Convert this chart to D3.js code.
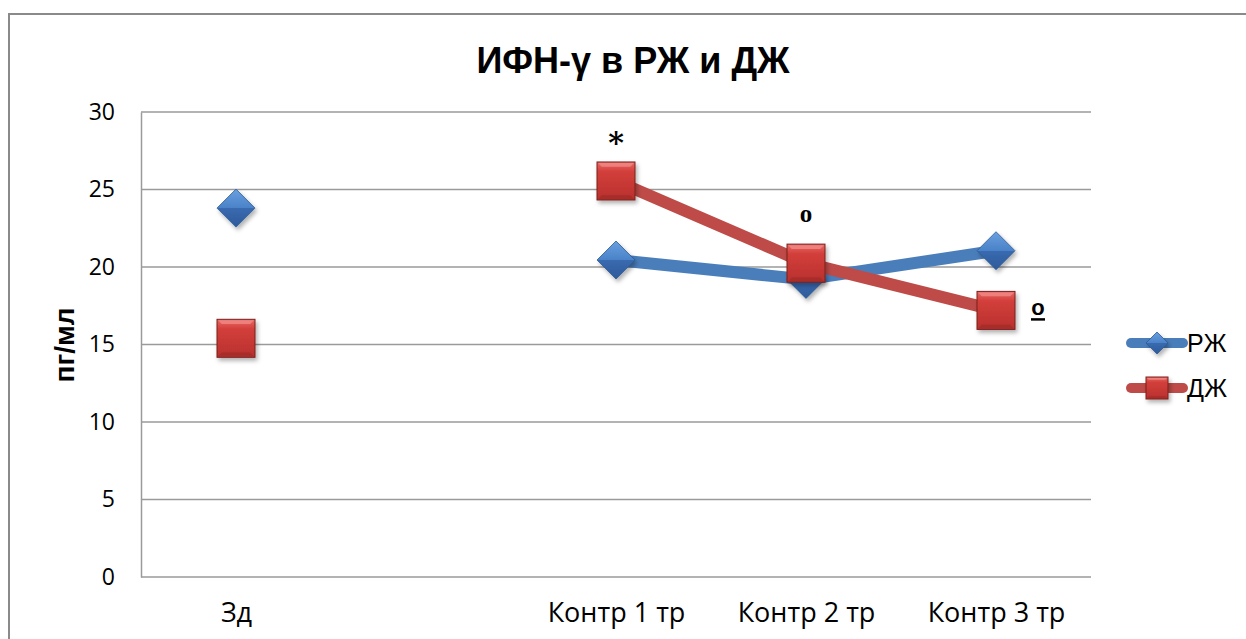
<!DOCTYPE html>
<html><head><meta charset="utf-8">
<script src="https://cdn.jsdelivr.net/npm/d3@7"></script>
<style>body{margin:0;background:#fff}svg{display:block}</style>
</head><body>
<svg id="c" width="1246" height="639"></svg>
<script>
const categories = ["Зд", " ", "Контр 1 тр", "Контр 2 тр", "Контр 3 тр"];
const seriesNames = ["РЖ", "ДЖ"];
const valuesRZ = [23.8, null, 20.45, 19.2, 21.05];
const valuesDZ = [15.4, null, 25.55, 20.25, 17.2];
const yTicks = [0, 5, 10, 15, 20, 25, 30];
const annotations = [
  {series: 1, index: 2, text: "*"},
  {series: 1, index: 3, text: "o"},
  {series: 1, index: 4, text: "º"}
];

const svg = d3.select("#c");
const font = "'Liberation Sans', Arial, sans-serif";
const tickFont = "'Open Sans', 'Noto Sans', sans-serif";
const colors = ["#4A7EBB", "#BE4B48"];

const defs = svg.append("defs");
const g1 = defs.append("linearGradient").attr("id","gBlue").attr("x1",0).attr("y1",0).attr("x2",0).attr("y2",1);
g1.append("stop").attr("offset","0%").attr("stop-color","#6aa0e0");
g1.append("stop").attr("offset","50%").attr("stop-color","#4a82c8");
g1.append("stop").attr("offset","50%").attr("stop-color","#3a6ab0");
g1.append("stop").attr("offset","100%").attr("stop-color","#2d5a9a");
const g2 = defs.append("linearGradient").attr("id","gRed").attr("x1",0).attr("y1",0).attr("x2",0).attr("y2",1);
g2.append("stop").attr("offset","0%").attr("stop-color","#e86a66");
g2.append("stop").attr("offset","25%").attr("stop-color","#d33f3b");
g2.append("stop").attr("offset","100%").attr("stop-color","#b8302d");
const f = defs.append("filter").attr("id","sh").attr("x","-30%").attr("y","-30%").attr("width","170%").attr("height","170%");
f.append("feDropShadow").attr("dx",2).attr("dy",3).attr("stdDeviation",2).attr("flood-color","#000").attr("flood-opacity",0.3);

// outer border
svg.append("rect").attr("x",9).attr("y",14).attr("width",1260).attr("height",660)
  .attr("fill","none").attr("stroke","#8a8a8a").attr("stroke-width",2);

const x = d3.scalePoint().domain(categories).range([141, 1091]).padding(0.5);
const y = d3.scaleLinear().domain([0, 30]).range([577, 112]);

// gridlines
svg.append("g").selectAll("line").data(yTicks).join("line")
  .attr("x1",141).attr("x2",1091).attr("y1",d=>y(d)).attr("y2",d=>y(d))
  .attr("stroke","#9a9a9a").attr("stroke-width",1.5);

// y axis
const yAxis = d3.axisLeft(y).tickValues(yTicks).tickSize(0).tickPadding(26);
const ya = svg.append("g").attr("transform","translate(141,0)").call(yAxis);
ya.select(".domain").attr("stroke","#9a9a9a").attr("stroke-width",1.5);
ya.selectAll("text").attr("font-family",tickFont).attr("font-size",23).attr("fill","#000");

// x axis
const xAxis = d3.axisBottom(x).tickSize(0).tickPadding(26);
const xa = svg.append("g").attr("transform","translate(0,577)").call(xAxis);
xa.select(".domain").remove();
xa.selectAll("text").attr("font-family",tickFont).attr("font-size",27).attr("fill","#000");

// title
svg.append("text").attr("x",633).attr("y",73).attr("text-anchor","middle")
  .attr("font-family",font).attr("font-weight","bold").attr("font-size",36)
  .text("ИФН-γ в РЖ и ДЖ");

// y label
svg.append("text").attr("transform","translate(74,345) rotate(-90)").attr("text-anchor","middle")
  .attr("font-family",font).attr("font-weight","bold").attr("font-size",28)
  .text("пг/мл");

const series = [valuesRZ, valuesDZ];
const line = d3.line().defined(d=>d.v!=null).x(d=>x(d.c)).y(d=>y(d.v));

function marker(sel, s, cx, cy, size) {
  const h = size;
  if (s === 0) {
    sel.append("path").attr("d",`M${cx},${cy-h}L${cx+h},${cy}L${cx},${cy+h}L${cx-h},${cy}Z`)
      .attr("fill","url(#gBlue)").attr("stroke","#2c5b94").attr("stroke-width",0.8).attr("filter","url(#sh)");
  } else {
    sel.append("rect").attr("x",cx-h).attr("y",cy-h).attr("width",2*h).attr("height",2*h)
      .attr("fill","url(#gRed)").attr("stroke","#7a1f1d").attr("stroke-width",1).attr("filter","url(#sh)");
    const b = Math.max(2, h/4);
    sel.append("path").attr("d",`M${cx-h+1},${cy-h+1}L${cx+h-1},${cy-h+1}L${cx+h-b},${cy-h+b}L${cx-h+b},${cy-h+b}Z`)
      .attr("fill","#f08a86").attr("opacity",0.8);
    sel.append("path").attr("d",`M${cx-h+1},${cy+h-1}L${cx+h-1},${cy+h-1}L${cx+h-b},${cy+h-b}L${cx-h+b},${cy+h-b}Z`)
      .attr("fill","#9a2926").attr("opacity",0.6);
  }
}

series.forEach((vals, s) => {
  const data = vals.map((v,i)=>({c:categories[i], v}));
  const g = svg.append("g");
  g.append("path").attr("d", line(data)).attr("fill","none")
    .attr("stroke",colors[s]).attr("stroke-width",12).attr("stroke-linejoin","round");
  data.filter(d=>d.v!=null).forEach(d => marker(g, s, x(d.c), y(d.v), 19));
});

// annotations
annotations.forEach(a => {
  const v = series[a.series][a.index];
  const cx = x(categories[a.index]), cy = y(v);
  if (a.text === "*") {
    svg.append("text").attr("x",cx).attr("y",cy-28).attr("text-anchor","middle")
      .attr("font-family","'DejaVu Serif', serif").attr("font-weight","bold").attr("font-size",30).text(a.text);
  } else if (a.text === "o") {
    svg.append("text").attr("x",cx).attr("y",cy-41).attr("text-anchor","middle")
      .attr("font-family","'Liberation Serif', serif").attr("font-weight","bold").attr("font-size",25).text(a.text);
  } else {
    const tx = cx + 42;
    svg.append("text").attr("x",tx).attr("y",cy+5).attr("text-anchor","middle")
      .attr("font-family",font).attr("font-weight","bold").attr("font-size",22).text("o");
    svg.append("line").attr("x1",tx-7).attr("x2",tx+7).attr("y1",cy+9).attr("y2",cy+9)
      .attr("stroke","#000").attr("stroke-width",2.5);
  }
});

// legend
seriesNames.forEach((n, s) => {
  const ly = 343 + s*45;
  const g = svg.append("g");
  g.append("line").attr("x1",1131).attr("x2",1183).attr("y1",ly).attr("y2",ly)
    .attr("stroke",colors[s]).attr("stroke-width",10).attr("stroke-linecap","round");
  marker(g, s, 1157, ly, 11);
  g.append("text").attr("x",1187).attr("y",ly+9).attr("font-family",font).attr("font-size",25).text(n);
});
</script>
</body></html>
